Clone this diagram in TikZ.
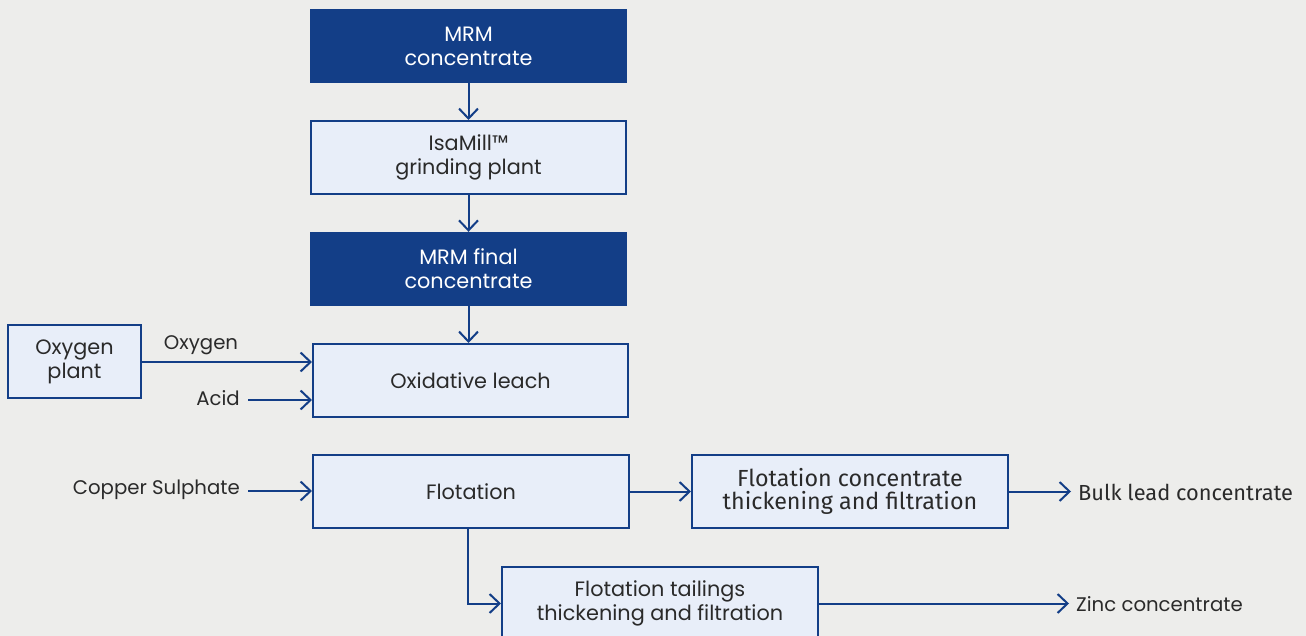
\documentclass[tikz,border=0pt]{standalone}
\usepackage{fontspec}
\setmainfont{Poppins}
\newfontfamily\narrowfont{Fira Sans}
\usetikzlibrary{arrows.meta}
\definecolor{darkblue}{HTML}{133E87}
\definecolor{lightfill}{HTML}{E8EEF9}
\definecolor{bgc}{HTML}{EDEDEB}
\definecolor{txt}{HTML}{2A2A2A}
\tikzset{
  darkbox/.style={draw=none, fill=darkblue, text=white, align=center, inner sep=0pt,
    font=\fontsize{20.8}{24}\selectfont},
  lightbox/.style={draw=darkblue, line width=2pt, fill=lightfill, text=txt, align=center, inner sep=0pt,
    font=\fontsize{20.8}{24}\selectfont},
  lbl/.style={text=txt, inner sep=0pt, font=\fontsize{19.7}{23}\selectfont},
  flow/.style={draw=darkblue, line width=2pt, -{Straight Barb[length=10pt,width=19pt,line width=2pt]}},
}
\begin{document}
\begin{tikzpicture}[x=1pt,y=-1pt]
\clip (0,0) rectangle (1306,636);
\fill[bgc] (0,0) rectangle (1306,636);
\node[darkbox, minimum width=317pt, minimum height=74pt] (mrm) at (468.5,46) {MRM\\concentrate};
\node[lightbox, minimum width=315pt, minimum height=73pt] (isa) at (468.5,157.5) {IsaMill™\\grinding plant};
\node[darkbox, minimum width=317pt, minimum height=74pt] (fin) at (468.5,269) {MRM final\\concentrate};
\node[lightbox, minimum width=133pt, minimum height=73pt] (oxp) at (74.5,361.5) {Oxygen\\plant};
\node[lightbox, minimum width=315pt, minimum height=73pt] (leach) at (470.5,380.5) {Oxidative leach};
\node[lightbox, minimum width=316pt, minimum height=73pt] (flot) at (471,491.5) {Flotation};
\node[lightbox, minimum width=316pt, minimum height=73pt, font=\narrowfont\fontsize{23.3}{23}\selectfont] (fcon) at (850,491.5) {Flotation concentrate\\thickening and filtration};
\node[lightbox, minimum width=316pt, minimum height=73pt] (ftail) at (660,603.5) {Flotation tailings\\thickening and filtration};

\node[lbl, anchor=south] (oxl) at (201,355) {Oxygen};
\node[lbl, anchor=east] (acid) at (240,398.5) {Acid};
\node[lbl, anchor=east] (cus) at (240,490) {Copper Sulphate};
\node[lbl, anchor=west, font=\narrowfont\fontsize{21.8}{23}\selectfont] (bulk) at (1078,492) {Bulk lead concentrate};
\node[lbl, anchor=west] (zinc) at (1076,604) {Zinc concentrate};

\draw[flow] (mrm.south) -- (isa.north);
\draw[flow] (isa.south) -- (fin.north);
\draw[flow] (fin.south) -- (fin.south |- leach.north);
\draw[flow] (oxp.east |- 0,362) -- (leach.west |- 0,362);
\draw[flow] ([xshift=8pt]acid.east |- 0,400) -- (leach.west |- 0,400);
\draw[flow] ([xshift=8pt]cus.east |- 0,491) -- (flot.west |- 0,491);
\draw[flow] (flot.east) -- (fcon.west);
\draw[flow] (fcon.east) -- ([xshift=-7pt]bulk.west |- fcon.east);
\draw[flow] (flot.south -| 468,0) |- (ftail.west);
\draw[flow] (ftail.east) -- ([xshift=-7pt]zinc.west |- ftail.east);
\end{tikzpicture}
\end{document}
